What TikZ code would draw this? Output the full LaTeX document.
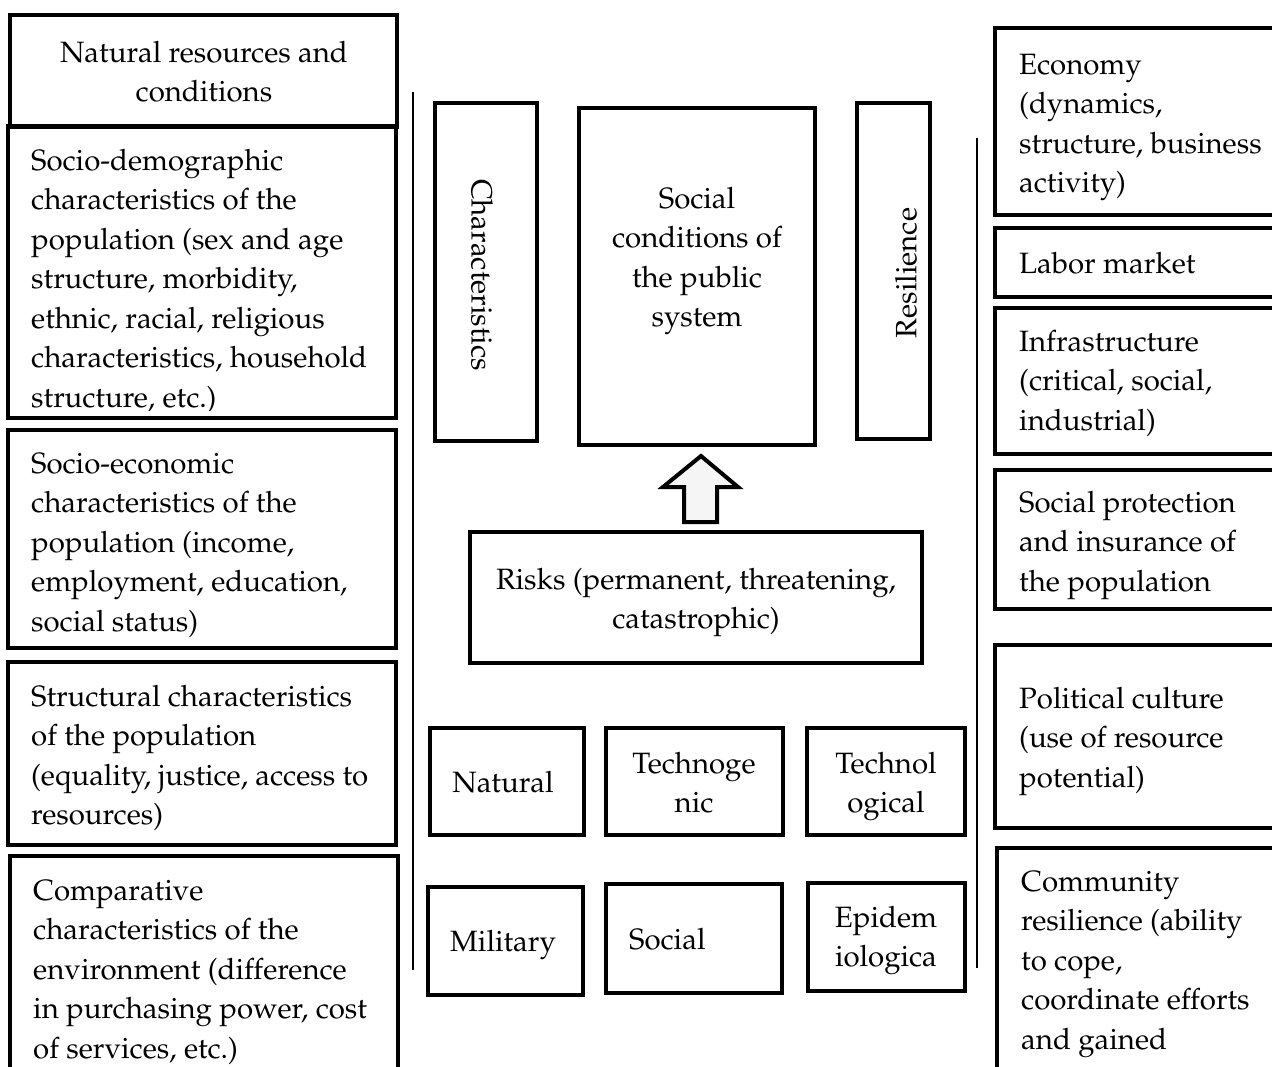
\documentclass[tikz,border=0pt]{standalone}
\usepackage[T1]{fontenc}
\usepackage{mathpazo}
\usetikzlibrary{fit}

\tikzset{
  frame/.style={draw, line width=4.5pt, inner sep=0pt},
  rtxt/.style={inner sep=0pt, font=\fontsize{29.4}{39.5}\selectfont},
  txt/.style={rtxt, align=left, anchor=north west, yshift=27.65pt},
  ctxt/.style={txt, align=center, anchor=north},
  divider/.style={line width=1.5pt},
}

\begin{document}
\begin{tikzpicture}[x=1pt,y=-1pt]
\clip (0,0) rectangle (1272,1066);
%\draw[help lines] (0,0) grid[step=100] (1272,1066);

% left column
\node[frame, fit={(10,15) (397,127)}] (natres) {};
\node[ctxt] (natrestxt) at (204,62) {\strut Natural resources and\\conditions};
\node[frame, fit={(8,126) (396,418)}] (sociodem) {};
\begin{scope}
\clip (8,126) rectangle (396,410);
\node[txt] (sociodemtxt) at (31,170) {\strut Socio-demographic\\characteristics of the\\population (sex and age\\structure, morbidity,\\ethnic, racial, religious\\characteristics, household\\structure, etc.)};
\end{scope}
\node[frame, fit={(8,430) (396,648)}] (socioecon) {};
\node[txt] (socioecontxt) at (31,473) {\strut Socio-economic\\characteristics of the\\population (income,\\employment, education,\\social status)};
\node[frame, fit={(8,662) (396,845)}] (struct) {};
\node[txt] (structtxt) at (31,706) {\strut Structural characteristics\\of the population\\(equality, justice, access to\\resources)};
\node[frame, fit={(10,856) (398,1090)}] (compar) {};
\node[txt] (compartxt) at (33,900) {\strut Comparative\\characteristics of the\\environment (difference\\in purchasing power, cost\\of services, etc.)};

% dividers
\coordinate (l1) at (413,92);
\coordinate (l2) at (413,970);
\coordinate (r1) at (977,138);
\coordinate (r2) at (977,968);
\draw[divider] (l1) -- (l2);
\draw[divider] (r1) -- (r2);

% middle
\node[frame, fit={(435,103) (537,441)}] (charact) {};
\node[rtxt, rotate=-90] (characttxt) at (482,275) {Characteristics};
\node[frame, fit={(579,108) (815,445)}] (social) {};
\node[ctxt] (socialtxt) at (697,208) {\strut Social\\conditions of\\the public\\system};
\node[frame, fit={(857,103) (930,439)}] (resil) {};
\node[rtxt, rotate=90] (resiltxt) at (906,273) {Resilience};

\draw[line width=4pt, fill=gray!8, line join=miter] (684,522) -- (684,487) -- (663,487) -- (701,456) -- (738,487) -- (717,487) -- (717,522) -- cycle;

\node[frame, fit={(470,532) (922,663)}] (risks) {};
\node[ctxt] (riskstxt) at (696,589) {\strut Risks (permanent, threatening,\\catastrophic)};

\node[frame, fit={(430,728) (584,835)}] (natural) {};
\node[ctxt] (naturaltxt) at (503,792) {\strut Natural};
\node[frame, fit={(606,728) (783,835)}] (technog) {};
\node[ctxt] (technogtxt) at (694,773) {\strut Technoge\\nic};
\node[frame, fit={(807,728) (965,835)}] (technol) {};
\node[ctxt] (technoltxt) at (886,773) {\strut Technol\\ogical};
\node[frame, fit={(428,887) (583,995)}] (milit) {};
\node[ctxt] (milittxt) at (503,951) {\strut Military};
\node[frame, fit={(606,884) (782,993)}] (soc) {};
\node[txt] (soctxt) at (629,949) {\strut Social};
\node[frame, fit={(808,883) (965,991)}] (epid) {};
\node[ctxt] (epidtxt) at (886,927) {\strut Epidem\\iologica};

% right column
\node[frame, fit={(995,28) (1290,215)}] (econ) {};
\node[txt] (econtxt) at (1019,74) {\strut Economy\\(dynamics,\\structure, business\\activity)};
\node[frame, fit={(995,228) (1290,297)}] (labor) {};
\node[txt] (labortxt) at (1019,273) {\strut Labor market};
\node[frame, fit={(995,308) (1290,454)}] (infra) {};
\node[txt] (infratxt) at (1019,351) {\strut Infrastructure\\(critical, social,\\industrial)};
\node[frame, fit={(995,470) (1290,609)}] (protect) {};
\node[txt] (protecttxt) at (1019,512) {\strut Social protection\\and insurance of\\the population};
\node[frame, fit={(995,645) (1290,828)}] (polit) {};
\node[txt] (polittxt) at (1019,708) {\strut Political culture\\(use of resource\\potential)};
\node[frame, fit={(997,848) (1290,1090)}] (commun) {};
\node[txt] (communtxt) at (1021,891) {\strut Community\\resilience (ability\\to cope,\\coordinate efforts\\and gained};
\end{tikzpicture}
\end{document}
